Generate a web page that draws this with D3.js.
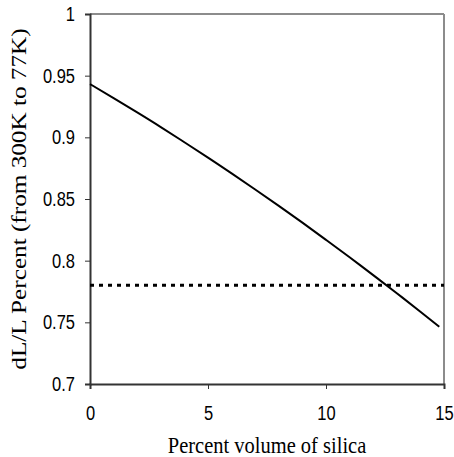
<!DOCTYPE html>
<html lang="en">
<head>
<meta charset="utf-8">
<script src="https://d3js.org/d3.v7.min.js"></script>
<style>
  body { margin: 0; background: #fff; }
</style>
</head>
<body>
<div id="chart"></div>
<script>
// values
var silica = [0, 1, 2, 3, 4, 5, 6, 7, 8, 9, 10, 11, 12, 13, 14, 14.8];
var dLL = [0.9432, 0.9318, 0.9202, 0.9083, 0.8960, 0.8836, 0.8708, 0.8577, 0.8444, 0.8308, 0.8169, 0.8028, 0.7883, 0.7736, 0.7586, 0.7464];
var limitValue = 0.78;
var xTicks = [0, 5, 10, 15];
var yTicks = [0.7, 0.75, 0.8, 0.85, 0.9, 0.95, 1];

var W = 454, H = 457;
var margin = {top: 14, right: 10, bottom: 73, left: 90},
    width = 444 - margin.left,
    height = 384 - margin.top;
var stretch = 1.2; // the original picture is a bit taller than wide

var svg = d3.select("#chart").append("svg")
    .attr("width", W)
    .attr("height", H);

var g = svg.append("g")
    .attr("transform", "translate(" + margin.left + "," + margin.top + ")");

var x = d3.scaleLinear().domain([0, 15]).range([0, width]);
var y = d3.scaleLinear().domain([0.7, 1]).range([height, 0]);

// gray frame on top and right
g.append("line")
    .attr("x1", 0).attr("x2", width).attr("y1", 0).attr("y2", 0)
    .attr("stroke", "#8c8c8c").attr("stroke-width", 2);
g.append("line")
    .attr("x1", width).attr("x2", width).attr("y1", 0).attr("y2", height)
    .attr("stroke", "#8c8c8c").attr("stroke-width", 2);

var xAxis = g.append("g")
    .attr("transform", "translate(0," + height + ")")
    .call(d3.axisBottom(x).tickValues(xTicks).tickSize(5).tickPadding(13).tickFormat(d3.format("d")));

var yAxis = g.append("g")
    .call(d3.axisLeft(y).tickValues(yTicks).tickSize(5).tickPadding(10).tickFormat(function(d) { return String(+d.toFixed(2)); }));

[xAxis, yAxis].forEach(function(a) {
  a.select(".domain").attr("stroke", "#333").attr("stroke-width", 2);
  a.selectAll(".tick line").attr("stroke", "#333").attr("stroke-width", 1);
  a.selectAll(".tick text")
    .attr("fill", "#000")
    .attr("transform", "scale(1," + stretch + ")")
    .style("font-family", "'Liberation Sans', Arial, sans-serif")
    .style("font-size", "16.5px");
});

// dotted reference line
g.append("line")
    .attr("x1", x(0)).attr("x2", x(15))
    .attr("y1", y(limitValue)).attr("y2", y(limitValue))
    .attr("stroke", "#000")
    .attr("stroke-width", 3)
    .attr("stroke-dasharray", "4,5");

var line = d3.line()
    .x(function(d, i) { return x(silica[i]); })
    .y(function(d) { return y(d); })
    .curve(d3.curveNatural);

g.append("path")
    .datum(dLL)
    .attr("d", line)
    .attr("fill", "none")
    .attr("stroke", "#000")
    .attr("stroke-width", 2);

// axis titles
svg.append("text")
    .attr("transform", "translate(" + (margin.left + width / 2) + ",453) scale(1,1.12)")
    .attr("text-anchor", "middle")
    .style("font-family", "'Liberation Serif', 'Times New Roman', serif")
    .style("font-size", "20.5px")
    .text("Percent volume of silica");

svg.append("text")
    .attr("transform", "translate(26," + (margin.top + height / 2) + ") rotate(-90) scale(1.23,1)")
    .attr("text-anchor", "middle")
    .style("font-family", "'Liberation Serif', 'Times New Roman', serif")
    .style("font-size", "20.5px")
    .text("dL/L Percent (from 300K to 77K)");
</script>
</body>
</html>
